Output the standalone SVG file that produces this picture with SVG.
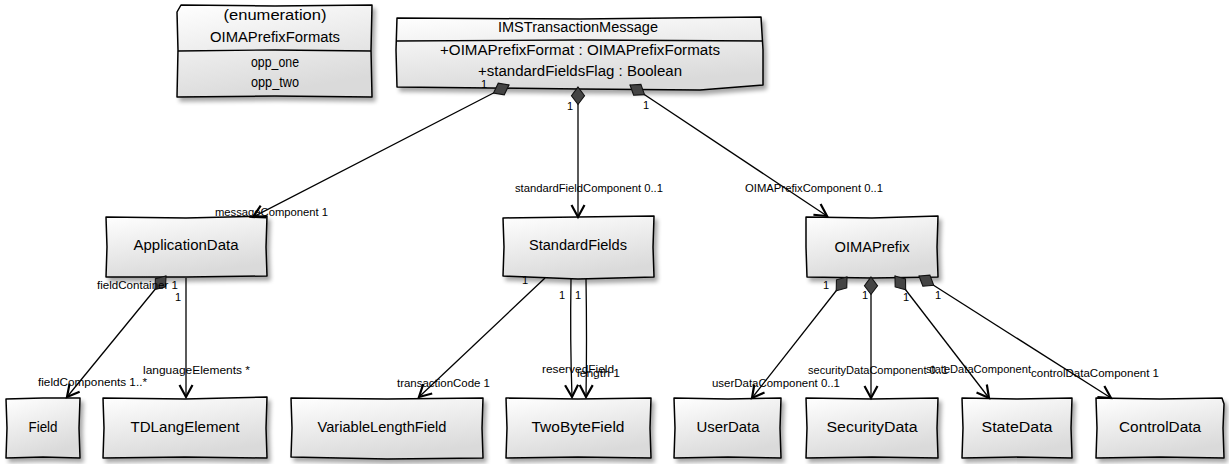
<svg xmlns="http://www.w3.org/2000/svg" width="1229" height="464" viewBox="0 0 1229 464">
<defs>
<linearGradient id="fill" x1="0" y1="0" x2="0.35" y2="1">
<stop offset="0" stop-color="#ffffff"/>
<stop offset="1" stop-color="#dadada"/>
</linearGradient>
<filter id="shadow" x="-10%" y="-10%" width="130%" height="140%">
<feGaussianBlur in="SourceAlpha" stdDeviation="2"/>
<feOffset dx="3" dy="4" result="b"/>
<feComponentTransfer><feFuncA type="linear" slope="0.35"/></feComponentTransfer>
<feMerge><feMergeNode/><feMergeNode in="SourceGraphic"/></feMerge>
</filter>
<marker id="arrow" markerUnits="userSpaceOnUse" markerWidth="20" markerHeight="20" refX="0" refY="0" viewBox="-14 -10 16 20" orient="auto" overflow="visible">
<path d="M-12,-6.5 L0,0 L-12,6.5" fill="none" stroke="#000" stroke-width="2.2" stroke-linejoin="miter"/>
</marker>
<marker id="diamond" markerUnits="userSpaceOnUse" markerWidth="24" markerHeight="20" refX="0" refY="0" viewBox="-2 -8 22 16" orient="auto" overflow="visible">
<path d="M0,0 L8,-6 L16,0 L8,6 Z" fill="#444" stroke="#111" stroke-width="1"/>
</marker>
</defs>
<style>
.box{fill:url(#fill);stroke:#000;stroke-width:1.5;stroke-linejoin:round;filter:url(#shadow)}
.div{fill:none;stroke:#000;stroke-width:1.3}
.name{font-family:"Liberation Sans",Arial,sans-serif;font-size:14px;fill:#000;text-anchor:middle;dominant-baseline:central}
.lbl{font-family:"Liberation Sans",Arial,sans-serif;font-size:11px;fill:#000;dominant-baseline:central}
.edge{fill:none;stroke:#000;stroke-width:1.3}
</style>
<rect width="1229" height="464" fill="#fff"/>

<g id="OIMAPrefixFormats">
<path class="box" d="M177,12 L181,5 L275,6 L372,5 L371,50 L372,97 L275,96 L177,97 L178,50 Z"/>
<path class="div" d="M178,51 L275,50 L371,51"/>
<text class="name" x="275" y="15" textLength="103" lengthAdjust="spacingAndGlyphs">(enumeration)</text>
<text class="name" x="275" y="37" textLength="130" lengthAdjust="spacingAndGlyphs">OIMAPrefixFormats</text>
<text class="name" x="275" y="62" textLength="48" lengthAdjust="spacingAndGlyphs">opp_one</text>
<text class="name" x="275" y="82" textLength="48" lengthAdjust="spacingAndGlyphs">opp_two</text>
</g>

<g id="IMSTransactionMessage">
<path class="box" d="M397,18 L580,19 L761,17 L763,50 L763,85 L700,90 L580,89 L397,87 L396,50 Z"/>
<path class="div" d="M397,41 L580,40 L763,41"/>
<text class="name" x="578" y="27" textLength="160" lengthAdjust="spacingAndGlyphs">IMSTransactionMessage</text>
<text class="name" x="580" y="50" textLength="280" lengthAdjust="spacingAndGlyphs">+OIMAPrefixFormat  :  OIMAPrefixFormats</text>
<text class="name" x="580" y="71" textLength="204" lengthAdjust="spacingAndGlyphs">+standardFieldsFlag  :  Boolean</text>
</g>

<g id="ApplicationData">
<path class="box" d="M106,217 L186,218 L267,216 L266,247 L267,276 L186,277 L106,277 L107,247 Z"/>
<text class="name" x="186" y="245" textLength="105" lengthAdjust="spacingAndGlyphs">ApplicationData</text>
</g>
<g id="StandardFields">
<path class="box" d="M503,218 L578,217 L654,216 L653,247 L654,277 L578,279 L503,276 L504,247 Z"/>
<text class="name" x="578" y="245" textLength="98" lengthAdjust="spacingAndGlyphs">StandardFields</text>
</g>
<g id="OIMAPrefix">
<path class="box" d="M806,217 L872,218 L938,216 L937,247 L938,277 L872,278 L807,277 L806,247 Z"/>
<text class="name" x="872" y="247" textLength="75" lengthAdjust="spacingAndGlyphs">OIMAPrefix</text>
</g>

<g id="Field">
<path class="box" d="M6,399 L43,398 L80,398 L79,428 L80,458 L43,457 L6,458 L7,428 Z"/>
<text class="name" x="43" y="427" textLength="29" lengthAdjust="spacingAndGlyphs">Field</text>
</g>
<g id="TDLangElement">
<path class="box" d="M103,398 L185,399 L267,397 L266,428 L267,458 L185,457 L103,458 L104,428 Z"/>
<text class="name" x="185" y="427" textLength="109" lengthAdjust="spacingAndGlyphs">TDLangElement</text>
</g>
<g id="VariableLengthField">
<path class="box" d="M291,398 L387,399 L483,398 L482,428 L483,458 L387,459 L291,457 L292,428 Z"/>
<text class="name" x="382" y="427" textLength="129" lengthAdjust="spacingAndGlyphs">VariableLengthField</text>
</g>
<g id="TwoByteField">
<path class="box" d="M506,398 L578,399 L651,398 L650,428 L651,458 L578,457 L506,458 L507,428 Z"/>
<text class="name" x="578" y="427" textLength="93" lengthAdjust="spacingAndGlyphs">TwoByteField</text>
</g>
<g id="UserData">
<path class="box" d="M674,398 L728,399 L781,398 L780,428 L781,458 L728,457 L674,458 L675,428 Z"/>
<text class="name" x="728" y="427" textLength="63" lengthAdjust="spacingAndGlyphs">UserData</text>
</g>
<g id="SecurityData">
<path class="box" d="M806,398 L872,399 L938,398 L937,428 L938,458 L872,457 L806,458 L807,428 Z"/>
<text class="name" x="872" y="427" textLength="91" lengthAdjust="spacingAndGlyphs">SecurityData</text>
</g>
<g id="StateData">
<path class="box" d="M962,398 L1017,399 L1072,398 L1071,428 L1072,458 L1017,457 L962,458 L963,428 Z"/>
<text class="name" x="1017" y="427" textLength="71" lengthAdjust="spacingAndGlyphs">StateData</text>
</g>
<g id="ControlData">
<path class="box" d="M1096,398 L1160,399 L1222,398 L1224,404 L1223,428 L1224,458 L1160,457 L1096,458 L1097,428 Z"/>
<text class="name" x="1160" y="427" textLength="82" lengthAdjust="spacingAndGlyphs">ControlData</text>
</g>

<g id="connectors">
<path class="edge" d="M509,85 L253,217" marker-start="url(#diamond)" marker-end="url(#arrow)"/>
<path class="edge" d="M578,87 L578,217" marker-start="url(#diamond)" marker-end="url(#arrow)"/>
<path class="edge" d="M630,85 L827,216" marker-start="url(#diamond)" marker-end="url(#arrow)"/>
<path class="edge" d="M166,276 L67,397" marker-start="url(#diamond)" marker-end="url(#arrow)"/>
<path class="edge" d="M186,278 L186,397" marker-end="url(#arrow)"/>
<path class="edge" d="M545,278 L419,397" marker-end="url(#arrow)"/>
<path class="edge" d="M571,279 Q570,340 572,397" marker-end="url(#arrow)"/>
<path class="edge" d="M586,279 Q587,340 586,397" marker-end="url(#arrow)"/>
<path class="edge" d="M847,277 L752,398" marker-start="url(#diamond)" marker-end="url(#arrow)"/>
<path class="edge" d="M871,277 L871,398" marker-start="url(#diamond)" marker-end="url(#arrow)"/>
<path class="edge" d="M895,276 L989,398" marker-start="url(#diamond)" marker-end="url(#arrow)"/>
<path class="edge" d="M919,276 L1111,398" marker-start="url(#diamond)" marker-end="url(#arrow)"/>

<text class="lbl" x="481" y="84">1</text>
<text class="lbl" x="567" y="106">1</text>
<text class="lbl" x="643" y="105">1</text>
<text class="lbl" x="215" y="212" textLength="113" lengthAdjust="spacingAndGlyphs">messageComponent  1</text>
<text class="lbl" x="515" y="188" textLength="148" lengthAdjust="spacingAndGlyphs">standardFieldComponent  0..1</text>
<text class="lbl" x="745" y="188" textLength="138" lengthAdjust="spacingAndGlyphs">OIMAPrefixComponent  0..1</text>
<text class="lbl" x="97" y="285" textLength="81" lengthAdjust="spacingAndGlyphs">fieldContainer  1</text>
<text class="lbl" x="175" y="297">1</text>
<text class="lbl" x="143" y="370" textLength="107" lengthAdjust="spacingAndGlyphs">languageElements  *</text>
<text class="lbl" x="38" y="382" textLength="109" lengthAdjust="spacingAndGlyphs">fieldComponents  1..*</text>
<text class="lbl" x="522" y="280">1</text>
<text class="lbl" x="397" y="383" textLength="93" lengthAdjust="spacingAndGlyphs">transactionCode  1</text>
<text class="lbl" x="559" y="295">1</text>
<text class="lbl" x="575" y="295">1</text>
<text class="lbl" x="542" y="369" textLength="72" lengthAdjust="spacingAndGlyphs">reservedField</text>
<text class="lbl" x="577" y="373" textLength="43" lengthAdjust="spacingAndGlyphs">length  1</text>
<text class="lbl" x="823" y="285">1</text>
<text class="lbl" x="862" y="295">1</text>
<text class="lbl" x="903" y="297">1</text>
<text class="lbl" x="935" y="295">1</text>
<text class="lbl" x="712" y="383" textLength="128" lengthAdjust="spacingAndGlyphs">userDataComponent  0..1</text>
<text class="lbl" x="808" y="370" textLength="140" lengthAdjust="spacingAndGlyphs">securityDataComponent  0..1</text>
<text class="lbl" x="926" y="369" textLength="105" lengthAdjust="spacingAndGlyphs">stateDataComponent</text>
<text class="lbl" x="1031" y="373" textLength="128" lengthAdjust="spacingAndGlyphs">controlDataComponent  1</text>
</g>
</svg>
